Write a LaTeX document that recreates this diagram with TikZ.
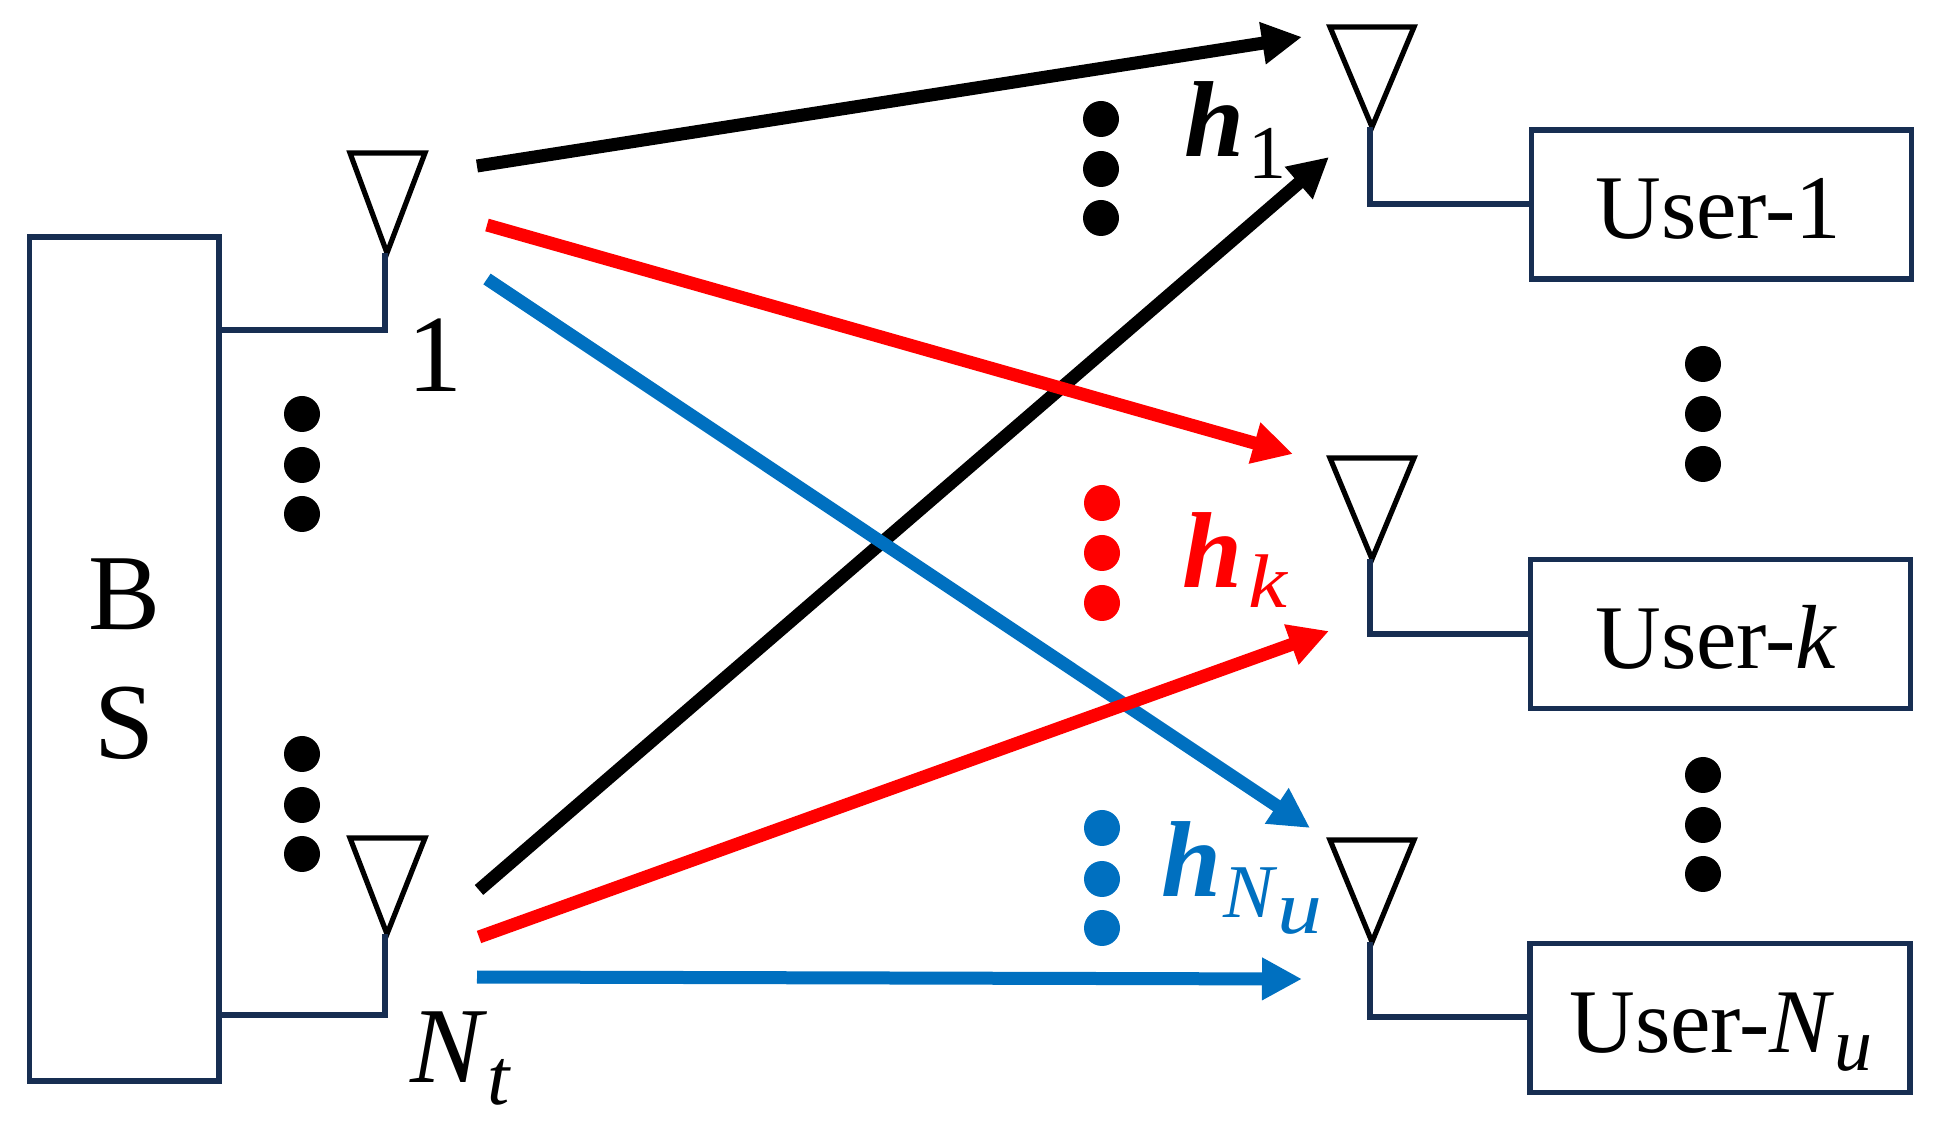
\documentclass[tikz,border=0pt]{standalone}
\usepackage{fontspec}
\setmainfont{Liberation Serif}
\usetikzlibrary{arrows.meta}
\definecolor{wirenavy}{HTML}{172E52}
\definecolor{chanblue}{HTML}{0070C0}
\definecolor{chanred}{HTML}{FF0000}
\newcommand{\subdrop}[2]{\raisebox{-#1}{\fontsize{38}{38}\selectfont #2}}
\newcommand{\wideu}{\scalebox{1.18}[1]{\textit{u}}}
\tikzset{
  bsbox/.style={draw=wirenavy, line width=2.8pt, inner sep=0pt, align=center, minimum width=94.75pt, minimum height=422pt, font=\fontsize{54}{64.5}\selectfont},
  userbox/.style={draw=wirenavy, line width=2.8pt, inner sep=0pt, minimum width=190pt, minimum height=74.5pt},
  wire/.style={wirenavy, line width=2.6pt, line join=miter},
  antenna/.style={black, line width=2.6pt, line join=miter},
  channel/.style={line width=6.5pt, -{Triangle[length=20pt,width=20pt]}},
  dot/.style={circle, fill=#1, minimum size=18pt, inner sep=0pt},
  usertext/.style={anchor=base west, inner sep=0pt, font=\fontsize{45.5}{45.5}\selectfont},
  symtext/.style={anchor=base west, inner sep=0pt, font=\fontsize{54}{54}\selectfont}
}
\begin{document}
\begin{tikzpicture}[x=0.5pt,y=-0.5pt]
  \useasboundingbox (0,0) rectangle (1935,1122);

  % base station and its antennas
  \node[bsbox] (bs) at (124.25,659) {\raisebox{-2pt}{B}\\\raisebox{-2pt}{S}};
  \coordinate (at1l) at (350,153);
  \coordinate (at1r) at (425,153);
  \coordinate (at1p) at (387,253);
  \coordinate (at1w) at (385,330);
  \draw[antenna] (at1l) -- (at1r) -- (at1p) -- cycle;
  \draw[wire] (bs.east |- at1w) -- (at1w) -- (at1w |- at1p);
  \coordinate (atnl) at (350,838);
  \coordinate (atnr) at (425,838);
  \coordinate (atnp) at (387,934);
  \coordinate (atnw) at (385,1015);
  \draw[antenna] (atnl) -- (atnr) -- (atnp) -- cycle;
  \draw[wire] (bs.east |- atnw) -- (atnw) -- (atnw |- atnp);
  \node[symtext] (lab1) at (407,392) {\fontsize{55}{55}\selectfont 1};
  \node[symtext] (labnt) at (410,1082) {\textit{N}\raisebox{-11pt}{\fontsize{40}{40}\selectfont\textit{t}}};

  % users
  \node[userbox] (u1) at (1721.5,204.5) {};
  \node[userbox] (uk) at (1720.5,634) {};
  \node[userbox] (un) at (1720,1018) {};
  \node[usertext] (tu1) at (1595,239) {User-1};
  \node[usertext] (tuk) at (1595,669) {User-\textit{k}};
  \node[usertext] (tun) at (1569,1052) {User-\textit{N}\subdrop{9pt}{\textit{u}}};

  % user antennas
  \coordinate (ar1l) at (1330,27);
  \coordinate (ar1r) at (1414,27);
  \coordinate (ar1p) at (1372,127);
  \draw[antenna] (ar1l) -- (ar1r) -- (ar1p) -- cycle;
  \coordinate (ar1w) at (1370,204);
  \draw[wire] (u1.west |- ar1w) -- (ar1w) -- (ar1w |- ar1p);
  \coordinate (arkl) at (1330,458);
  \coordinate (arkr) at (1414,458);
  \coordinate (arkp) at (1372,559);
  \draw[antenna] (arkl) -- (arkr) -- (arkp) -- cycle;
  \coordinate (arkw) at (1370,634);
  \draw[wire] (uk.west |- arkw) -- (arkw) -- (arkw |- arkp);
  \coordinate (arnl) at (1330,840);
  \coordinate (arnr) at (1414,840);
  \coordinate (arnp) at (1372,942);
  \draw[antenna] (arnl) -- (arnr) -- (arnp) -- cycle;
  \coordinate (arnw) at (1370,1017);
  \draw[wire] (un.west |- arnw) -- (arnw) -- (arnw |- arnp);

  % channels
  \coordinate (s1) at (477,166);
  \coordinate (e1) at (1302,37);
  \coordinate (s2) at (479,890);
  \coordinate (e2) at (1329,157);
  \coordinate (s3) at (487,225);
  \coordinate (e3) at (1293,454);
  \coordinate (s4) at (479,937);
  \coordinate (e4) at (1329,631);
  \coordinate (s5) at (487,279);
  \coordinate (e5) at (1310,828);
  \coordinate (s6) at (477,977);
  \coordinate (e6) at (1302,979);
  \draw[channel, black] (s1) -- (e1);
  \draw[channel, black] (s2) -- (e2);
  \draw[channel, chanred] (s3) -- (e3);
  \draw[channel, chanblue] (s5) -- (e5);
  \draw[channel, chanred] (s4) -- (e4);
  \draw[channel, chanblue] (s6) -- (e6);

  % channel names
  \node[symtext] (h1) at (1184,157) {\textbf{\textit{h}}\kern2pt\subdrop{11pt}{1}};
  \node[symtext, chanred] (hk) at (1182,588) {\textbf{\textit{h}}\kern3pt\subdrop{10pt}{\scalebox{1.15}[1]{\textit{k}}}};
  \node[symtext, chanblue] (hn) at (1161,897) {\textbf{\textit{h}}\kern1pt\subdrop{10.5pt}{\textit{N}\raisebox{-8pt}{\wideu}}};

  % dots
  \node[dot=black] (da1) at (302,414) {};
  \node[dot=black] (da2) at (302,465) {};
  \node[dot=black] (da3) at (302,514) {};
  \node[dot=black] (db1) at (302,754) {};
  \node[dot=black] (db2) at (302,805) {};
  \node[dot=black] (db3) at (302,854) {};
  \node[dot=black] (dc1) at (1101,119) {};
  \node[dot=black] (dc2) at (1101,169) {};
  \node[dot=black] (dc3) at (1101,218) {};
  \node[dot=chanred] (dd1) at (1102,503) {};
  \node[dot=chanred] (dd2) at (1102,553) {};
  \node[dot=chanred] (dd3) at (1102,603) {};
  \node[dot=chanblue] (de1) at (1102,828) {};
  \node[dot=chanblue] (de2) at (1102,879) {};
  \node[dot=chanblue] (de3) at (1102,928) {};
  \node[dot=black] (df1) at (1703,364) {};
  \node[dot=black] (df2) at (1703,414) {};
  \node[dot=black] (df3) at (1703,464) {};
  \node[dot=black] (dg1) at (1703,775) {};
  \node[dot=black] (dg2) at (1703,825) {};
  \node[dot=black] (dg3) at (1703,874) {};
\end{tikzpicture}
\end{document}
